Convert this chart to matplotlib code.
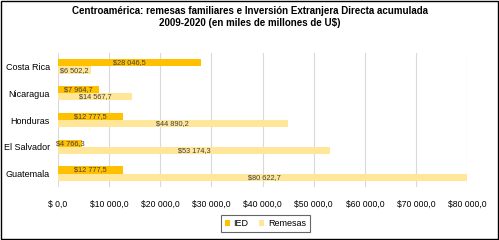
import matplotlib
matplotlib.use("Agg")
import matplotlib.pyplot as plt
from matplotlib.patches import Rectangle
import numpy as np

plt.rcParams['font.family'] = ['Liberation Sans', 'DejaVu Sans']

countries = ["Costa Rica", "Nicaragua", "Honduras", "El Salvador", "Guatemala"]
ied = [28046.5, 7964.7, 12777.5, 4766.3, 12777.5]
remesas = [6502.2, 14567.7, 44890.2, 53174.3, 80622.7]
xticks = [0, 10000, 20000, 30000, 40000, 50000, 60000, 70000, 80000]
xticklabels = ["$ 0,0", "$10 000,0", "$20 000,0", "$30 000,0", "$40 000,0",
               "$50 000,0", "$60 000,0", "$70 000,0", "$80 000,0"]

def fmt(v):
    s = f"{v:,.1f}".replace(",", " ").replace(".", ",")
    return "$" + s

fig = plt.figure(figsize=(4.99, 2.40), dpi=100)
fig.patch.set_facecolor("white")
fig.patches.append(Rectangle((0.003, 0.005), 0.994, 0.99, transform=fig.transFigure,
                             fill=False, edgecolor="black", linewidth=1.0))

ax = fig.add_axes([0.1162, 0.221, 0.820, 0.558])
y = np.arange(len(countries))
h = 0.27
c_ied = "#FFC000"
c_rem = "#FFE699"
b1 = ax.barh(y - h/2, ied, height=h, color=c_ied, label="IED", zorder=3)
b2 = ax.barh(y + h/2, remesas, height=h, color=c_rem, label="Remesas", zorder=3)

for bars, vals in ((b1, ied), (b2, remesas)):
    for rect, v in zip(bars, vals):
        ax.text(v / 2, rect.get_y() + rect.get_height() / 2, fmt(v),
                ha="center", va="center", fontsize=5.3, color="#404040", zorder=4)

ax.set_yticks(y)
ax.set_yticklabels(countries, fontsize=6.5, color="black")
ax.set_ylim(len(countries) - 0.5, -0.5)
ax.set_xlim(0, 80000)
ax.set_xticks(xticks)
ax.set_xticklabels(xticklabels, fontsize=6.2, color="black")
ax.tick_params(axis="y", length=0, pad=6)
ax.tick_params(axis="x", length=0, pad=9)
ax.grid(axis="x", color="#d9d9d9", linewidth=0.8, zorder=0)
for s in ax.spines.values():
    s.set_visible(False)

fig.suptitle("Centroamérica: remesas familiares e Inversión Extranjera Directa acumulada\n2009-2020 (en miles de millones de U$)",
             fontsize=7.0, fontweight="bold", y=0.975, linespacing=1.2)

leg = fig.legend(handles=[b1, b2], labels=["IED", "Remesas"], loc="center",
                 bbox_to_anchor=(0.532, 0.068), ncol=2, fontsize=6.5,
                 frameon=True, fancybox=False, edgecolor="#404040",
                 handlelength=0.55, handleheight=0.55, handletextpad=0.4,
                 columnspacing=1.2, borderpad=0.45)
leg.get_frame().set_linewidth(0.8)

fig.savefig("out.png", dpi=100, facecolor="white")
